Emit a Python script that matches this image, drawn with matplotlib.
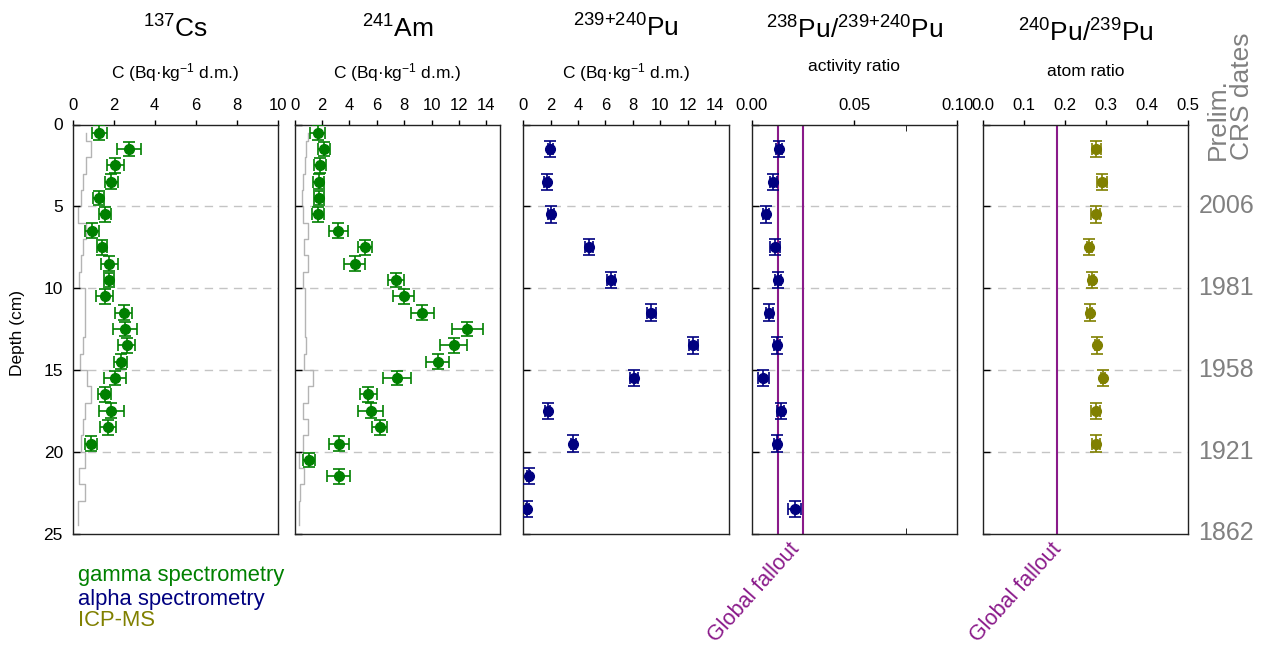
import numpy as np
import matplotlib
matplotlib.use('Agg')
import matplotlib.pyplot as plt
from matplotlib.transforms import blended_transform_factory

plt.rcParams['font.family'] = ['Liberation Sans', 'DejaVu Sans']
plt.rcParams['mathtext.fontset'] = 'custom'
plt.rcParams['mathtext.rm'] = 'Liberation Sans'
plt.rcParams['mathtext.it'] = 'Liberation Sans:italic'
plt.rcParams['mathtext.bf'] = 'Liberation Sans:bold'

# ---------------- data ----------------
cs_depth = [0.5, 1.5, 2.5, 3.5, 4.5, 5.5, 6.5, 7.5, 8.5, 9.5,
            10.5, 11.5, 12.5, 13.5, 14.5, 15.5, 16.5, 17.5, 18.5, 19.5]
cs_val = [1.30, 2.75, 2.07, 1.89, 1.27, 1.58, 0.93, 1.41, 1.79, 1.76,
          1.56, 2.49, 2.54, 2.63, 2.34, 2.08, 1.56, 1.87, 1.74, 0.88]
cs_err = [0.38, 0.59, 0.41, 0.33, 0.28, 0.28, 0.34, 0.24, 0.41, 0.25,
          0.41, 0.41, 0.59, 0.42, 0.33, 0.54, 0.33, 0.61, 0.39, 0.30]

mda_depth = [0.5, 1.5, 2.5, 3.5, 4.5, 5.5, 6.5, 7.5, 8.5, 9.5, 10.5, 11.5, 12.5,
             13.5, 14.5, 15.5, 16.5, 17.5, 18.5, 19.5, 20.5, 21.5, 22.5, 23.5, 24.5]
cs_mda = [0.63, 0.88, 0.63, 0.52, 0.42, 0.28, 0.63, 0.52, 0.41, 0.33, 0.60, 0.60, 0.60,
          0.52, 0.36, 0.68, 0.88, 0.62, 0.52, 0.40, 0.60, 0.30, 0.58, 0.25, 0.25]

am_depth = [0.5, 1.5, 2.5, 3.5, 4.5, 5.5, 6.5, 7.5, 8.5, 9.5, 10.5,
            11.5, 12.5, 13.5, 14.5, 15.5, 16.5, 17.5, 18.5, 19.5, 20.5, 21.5]
am_val = [1.68, 2.12, 1.83, 1.75, 1.75, 1.68, 3.19, 5.16, 4.38, 7.40, 7.96,
          9.33, 12.61, 11.61, 10.45, 7.45, 5.36, 5.55, 6.21, 3.24, 1.05, 3.21]
am_err = [0.55, 0.43, 0.43, 0.40, 0.37, 0.43, 0.67, 0.51, 0.77, 0.57, 0.75,
          0.83, 1.14, 1.00, 0.84, 1.03, 0.62, 0.89, 0.57, 0.72, 0.43, 0.82]
am_mda = [0.97, 0.83, 0.73, 0.61, 0.54, 0.58, 0.97, 0.68, 0.97, 0.61, 0.78, 0.78, 0.78,
          0.83, 0.66, 1.31, 0.95, 0.58, 0.97, 0.63, 0.29, 0.66, 0.41, 0.29, 0.34]

pu_depth = [1.5, 3.5, 5.5, 7.5, 9.5, 11.5, 13.5, 15.5, 17.5, 19.5, 21.5, 23.5]
pu_val = [1.97, 1.70, 2.02, 4.82, 6.40, 9.35, 12.42, 8.08, 1.78, 3.65, 0.39, 0.29]
pu_err = [0.20, 0.20, 0.20, 0.30, 0.30, 0.35, 0.35, 0.30, 0.20, 0.20, 0.10, 0.10]

ar_depth = [1.5, 3.5, 5.5, 7.5, 9.5, 11.5, 13.5, 15.5, 17.5, 19.5, 23.5]
ar_val = [0.0135, 0.0106, 0.0070, 0.0114, 0.0128, 0.0086, 0.0123, 0.0057, 0.0141, 0.0125, 0.0209]
ar_err = [0.0015, 0.0015, 0.0015, 0.0026, 0.0015, 0.0018, 0.0015, 0.0025, 0.0018, 0.0015, 0.0032]

at_depth = [1.5, 3.5, 5.5, 7.5, 9.5, 11.5, 13.5, 15.5, 17.5, 19.5]
at_val = [0.276, 0.289, 0.274, 0.259, 0.264, 0.260, 0.278, 0.293, 0.274, 0.274]
at_err = [0.011, 0.012, 0.011, 0.006, 0.005, 0.006, 0.005, 0.005, 0.011, 0.010]

fallout_ar = [0.013, 0.025]
fallout_at = [0.18]

date_depth = [5, 10, 15, 20, 25]
date_labels = ['2006', '1981', '1958', '1921', '1862']

titles = [r'$\mathregular{^{137}Cs}$', r'$\mathregular{^{241}Am}$', r'$\mathregular{^{239{+}240}Pu}$',
          r'$\mathregular{^{238}Pu/^{239{+}240}Pu}$', r'$\mathregular{^{240}Pu/^{239}Pu}$']
subtitles = ['C (Bq·kg$^{-1}$ d.m.)', 'C (Bq·kg$^{-1}$ d.m.)', 'C (Bq·kg$^{-1}$ d.m.)',
             'activity ratio', 'atom ratio']
xlims = [(0, 10), (0, 15), (0, 15), (0, 0.1), (0, 0.5)]
xticks = [[0, 2, 4, 6, 8, 10], [0, 2, 4, 6, 8, 10, 12, 14], [0, 2, 4, 6, 8, 10, 12, 14],
          [0.0, 0.05, 0.1], [0.0, 0.1, 0.2, 0.3, 0.4, 0.5]]
xticklabels = [['0', '2', '4', '6', '8', '10'],
               ['0', '2', '4', '6', '8', '10', '12', '14'],
               ['0', '2', '4', '6', '8', '10', '12', '14'],
               ['0.00', '0.05', '0.10'],
               ['0.0', '0.1', '0.2', '0.3', '0.4', '0.5']]
legend_labels = ['gamma spectrometry', 'alpha spectrometry', 'ICP-MS']

# ---------------- style ----------------
GREEN = '#008000'
NAVY = '#000080'
OLIVE = '#808000'
PURPLE = '#8a1a8a'
GRAY = '#808080'

W, H = 1268, 648
fig = plt.figure(figsize=(W / 100, H / 100), dpi=100)
boxes = [(72.7, 277.7), (294.7, 500.0), (523.3, 728.7), (751.7, 957.0), (983.3, 1188.3)]
top_px, bot_px = 124.5, 533.5

axes = []
for i, (l, r) in enumerate(boxes):
    ax = fig.add_axes([l / W, 1 - bot_px / H, (r - l) / W, (bot_px - top_px) / H])
    ax.set_xlim(*xlims[i])
    ax.set_ylim(25, 0)
    ax.xaxis.tick_top()
    ax.set_xticks(xticks[i])
    ax.set_xticklabels(xticklabels[i])
    ax.tick_params(axis='x', direction='out', length=3.5, width=1, pad=5, labelsize=12)
    ax.set_yticks([0, 5, 10, 15, 20, 25])
    ax.tick_params(axis='y', direction='in', length=5, width=1, pad=7, labelsize=12.5)
    if i > 0:
        ax.tick_params(axis='y', labelleft=False)
    for s in ax.spines.values():
        s.set_color('#222222')
        s.set_linewidth(1)
    for d in [5, 10, 15, 20]:
        ax.axhline(d, color='#c4c4c4', lw=1, dashes=(6, 4.5), zorder=0)
    axes.append(ax)


def steps(depth, vals):
    d = np.asarray(depth, float)
    v = np.asarray(vals, float)
    edges = np.concatenate([[d[0]], (d[:-1] + d[1:]) / 2, [d[-1]]])
    ys = np.repeat(edges, 2)[1:-1]
    xs = np.repeat(v, 2)
    return xs, ys


ebkw = dict(fmt='o', ms=7, capsize=4, elinewidth=1.2, capthick=1.2, zorder=3)

ax = axes[0]
xs, ys = steps(mda_depth, cs_mda)
ax.plot(xs, ys, color='#b4b4b4', lw=1, zorder=1)
ax.errorbar(cs_val, cs_depth, xerr=cs_err, yerr=0.45, color=GREEN, **ebkw)

ax = axes[1]
xs, ys = steps(mda_depth, am_mda)
ax.plot(xs, ys, color='#b4b4b4', lw=1, zorder=1)
ax.errorbar(am_val, am_depth, xerr=am_err, yerr=0.45, color=GREEN, **ebkw)

ax = axes[2]
ax.errorbar(pu_val, pu_depth, xerr=pu_err, yerr=0.5, color=NAVY, **ebkw)

ax = axes[3]
for v in fallout_ar:
    ax.axvline(v, color=PURPLE, lw=1.5, zorder=2)
ax.errorbar(ar_val, ar_depth, xerr=ar_err, yerr=0.5, color=NAVY, **ebkw)
ax.set_xticks([0.025, 0.075], minor=True)
ax.tick_params(axis='x', which='minor', direction='in', length=4, top=True, bottom=True)

ax = axes[4]
for v in fallout_at:
    ax.axvline(v, color=PURPLE, lw=1.5, zorder=2)
ax.errorbar(at_val, at_depth, xerr=at_err, yerr=0.5, color=OLIVE, **ebkw)

# titles and subtitles
sub_y = [73, 73, 73, 66, 71]
title_y = [29, 29, 28, 30, 33]
for i, (l, r) in enumerate(boxes):
    cx = (l + r) / 2 / W
    fig.text(cx, 1 - title_y[i] / H, titles[i], ha='center', va='center', fontsize=19)
    fig.text(cx, 1 - sub_y[i] / H, subtitles[i], ha='center', va='center', fontsize=12.5)

# depth label
fig.text(18 / W, 1 - 333 / H, 'Depth (cm)', rotation=90, ha='center', va='center', fontsize=12.5)

# dates on the right
tr = blended_transform_factory(axes[4].transAxes, axes[4].transData)
for d, lab in zip(date_depth, date_labels):
    axes[4].text(1.05, d, lab, transform=tr, ha='left', va='center', fontsize=18,
                 color=GRAY, clip_on=False)
fig.text(1230 / W, 1 - 160 / H, 'Prelim.\nCRS dates', rotation=90, ha='center', va='bottom',
         multialignment='left', linespacing=1.0, fontsize=19, color=GRAY)

# legend-like text
for lab, col, y in zip(legend_labels, [GREEN, NAVY, OLIVE], [576, 599, 621]):
    fig.text(78 / W, 1 - y / H, lab, ha='left', va='center', fontsize=15.8, color=col)

# global fallout labels
for x in [754, 1016]:
    fig.text(x / W, 1 - 593 / H, 'Global fallout', rotation=48, ha='center', va='center',
             fontsize=15.5, color=PURPLE)

fig.savefig('out.png', dpi=100)
